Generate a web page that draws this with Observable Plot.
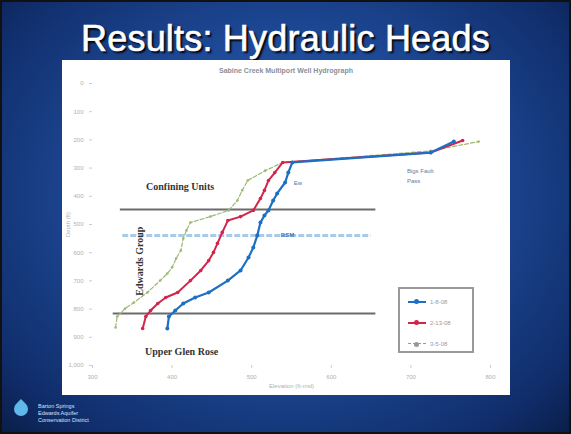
<!DOCTYPE html>
<html>
<head>
<meta charset="utf-8">
<script src="https://cdn.jsdelivr.net/npm/d3@7"></script>
<script src="https://cdn.jsdelivr.net/npm/@observablehq/plot@0.6"></script>
<style>
  html, body { margin: 0; padding: 0; }
  body { width: 571px; height: 434px; overflow: hidden; position: relative;
    background: radial-gradient(ellipse at 50% 45%, #2e63b8 0%, #1e4a98 45%, #102d6a 85%, #0a1d48 100%);
    font-family: "Liberation Sans", Arial, sans-serif; }
  #frame { position: absolute; left: 0; top: 0; width: 567px; height: 430px; border: 2px solid #111; }
  #title { position: absolute; left: 0; width: 571px; top: 18px; text-align: center; color: #fff;
    font-size: 36px; font-family: "Liberation Sans", Arial, sans-serif; letter-spacing: 0.2px;
    -webkit-text-stroke: 0.6px #fff; text-shadow: 2px 2px 2px #000; }
  #panel { position: absolute; left: 62px; top: 60px; width: 448px; height: 335px; background: #fff; }
  #ctitle { position: absolute; left: 0; top: 7px; width: 448px; text-align: center; font-size: 7px; color: #8a8f99; font-weight: bold; }
  #chart { position: absolute; left: 0; top: 2px; }
  #legend { position: absolute; left: 336px; top: 227px; width: 72px; height: 62px; border: 2px solid #9a9a9a; background: #fff; }
  .li { position: absolute; left: 8px; height: 10px; font-size: 6px; color: #9a9a9a; display: flex; align-items: center; gap: 4px; }
  .sw { position: relative; width: 18px; height: 2px; }
  .sw i { position: absolute; left: 6px; top: -2px; width: 5px; height: 5px; border-radius: 50%; }
  #logo { position: absolute; left: 14px; top: 402px; width: 14px; height: 14px; background: #5fb7ea;
    border-radius: 50% 0 50% 50%; transform: rotate(-45deg); }
  #logotext { position: absolute; left: 38px; top: 403px; font-size: 5.5px; line-height: 7px; color: #cfe3ff; }
</style>
</head>
<body>
<div id="frame"></div>
<div id="title">Results: Hydraulic Heads</div>
<div id="panel">
  <div id="chart"></div>
  <div id="ctitle">Sabine Creek Multiport Well Hydrograph</div>
  <div id="legend"></div>
</div>
<div id="logo"></div>
<div id="logotext">Barton Springs<br>Edwards Aquifer<br>Conservation District</div>
<script>
// ---- data (elevation in ft-msl, depth in ft) ----
const seriesNames = ["1-8-08", "2-13-08", "3-5-08"];
const seriesColors = ["#1d6fc4", "#d3254c", "#9cba72"];

const blueElev  = [394, 396, 404, 414, 429, 446, 470, 486, 496, 502, 507, 511, 516, 521, 527, 532, 542, 546, 551, 725, 754];
const blueDepth = [869, 826, 805, 780, 759, 741, 699, 663, 617, 582, 539, 493, 468, 450, 415, 390, 351, 316, 280, 245, 206];

const redElev   = [363, 367, 373, 382, 392, 407, 423, 436, 446, 452, 457, 463, 470, 486, 502, 511, 516, 521, 529, 539, 725, 765];
const redDepth  = [869, 826, 805, 780, 759, 741, 699, 663, 628, 599, 567, 528, 486, 472, 450, 408, 379, 344, 316, 280, 245, 202];

const greenElev  = [329, 331, 341, 352, 369, 385, 394, 400, 405, 411, 414, 418, 423, 448, 471, 482, 488, 495, 517, 539, 725, 785];
const greenDepth = [865, 826, 798, 777, 741, 699, 674, 652, 621, 592, 550, 521, 493, 472, 450, 415, 379, 344, 309, 280, 239, 206];

const xTicks = [300, 400, 500, 600, 700, 800];
const xTickLabels = ["300", "400", "500", "600", "700", "800"];
const yTicks = [0, 100, 200, 300, 400, 500, 600, 700, 800, 900, 1000];

// unit boundaries (depth) and their extent in elevation
const boundaryDepths = [447, 816];
const boundaryX1 = [335, 326];
const boundaryX2 = [656, 656];
const bsmDepth = [539];

const toRows = (name, xs, ys) => xs.map((x, i) => ({series: name, elev: x, depth: ys[i]}));
const blue = toRows(seriesNames[0], blueElev, blueDepth);
const red = toRows(seriesNames[1], redElev, redDepth);
const green = toRows(seriesNames[2], greenElev, greenDepth);
const boundaries = boundaryDepths.map((d, i) => ({depth: d, x1: boundaryX1[i], x2: boundaryX2[i]}));

const lbl = {fontFamily: "Liberation Serif, serif", fontWeight: "bold", fill: "#333"};

const chart = Plot.plot({
  width: 448, height: 333,
  marginLeft: 30, marginRight: 20, marginTop: 21, marginBottom: 30,
  style: {background: "transparent", fontFamily: "Liberation Sans, sans-serif"},
  x: {domain: [300, 800]},
  y: {domain: [0, 1000], reverse: true},
  marks: [
    Plot.axisX({ticks: xTicks, tickFormat: (d, i) => xTickLabels[i], fontSize: 6, fill: "#b0b0b0", stroke: "#ccc", tickSize: 3,
      label: "Elevation (ft-msl)", labelAnchor: "center", labelArrow: "none", labelOffset: 22}),
    Plot.axisY({ticks: yTicks, fontSize: 6, fill: "#b0b0b0", stroke: "#ccc", tickSize: 3,
      label: "Depth (ft)", labelAnchor: "center", labelArrow: "none", labelOffset: 27}),
    Plot.ruleY(boundaries, {y: "depth", x1: "x1", x2: "x2", stroke: "#6b6b6b", strokeWidth: 2}),
    Plot.ruleY(bsmDepth, {x1: 338, x2: 650, stroke: "#a9cbe8", strokeWidth: 3, strokeDasharray: "6,2"}),
    Plot.line(green, {x: "elev", y: "depth", stroke: seriesColors[2], strokeWidth: 1.2, strokeDasharray: "4,2"}),
    Plot.dot(green, {x: "elev", y: "depth", fill: seriesColors[2], r: 1.3}),
    Plot.line(red, {x: "elev", y: "depth", stroke: seriesColors[1], strokeWidth: 2}),
    Plot.dot(red, {x: "elev", y: "depth", fill: seriesColors[1], r: 1.8}),
    Plot.line(blue, {x: "elev", y: "depth", stroke: seriesColors[0], strokeWidth: 2.2}),
    Plot.dot(blue, {x: "elev", y: "depth", fill: seriesColors[0], r: 2}),
    Plot.text(["Confining Units"], {x: 410, y: 365, fontSize: 10, ...lbl}),
    Plot.text(["Edwards Group"], {x: 360, y: 630, fontSize: 10, rotate: -90, ...lbl}),
    Plot.text(["Upper Glen Rose"], {x: 412, y: 950, fontSize: 10, ...lbl}),
    Plot.text(["BSM"], {x: 545, y: 539, fontSize: 6, fill: "#4a74a8", fontWeight: "bold"}),
    Plot.text(["Ew"], {x: 558, y: 354, fontSize: 6, fill: "#4a74a8"}),
    Plot.text(["Bigs Fault", "Pass"], {x: 695, y: [310, 345], fontSize: 6, fill: "#6a7a9a", textAnchor: "start"})
  ]
});
document.getElementById("chart").appendChild(chart);

// legend
const leg = document.getElementById("legend");
seriesNames.forEach((n, i) => {
  const row = document.createElement("div");
  row.className = "li";
  row.style.top = (8 + i * 21) + "px";
  const dashed = i === 2;
  row.innerHTML = `<span class="sw" style="background:${dashed ? "transparent" : seriesColors[i]};border-top:${dashed ? "1px dashed #999" : "none"}"><i style="background:${dashed ? "#999" : seriesColors[i]}"></i></span><span>${n}</span>`;
  leg.appendChild(row);
});
</script>
</body>
</html>
